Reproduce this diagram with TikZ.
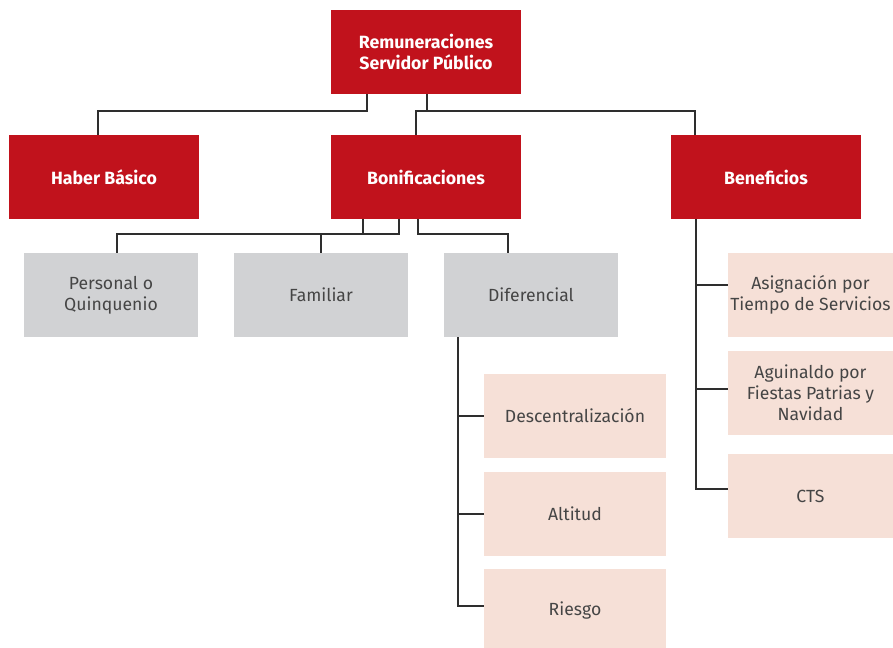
\documentclass[tikz,border=0pt]{standalone}
\usepackage{fontspec}
\setmainfont{Fira Sans}
\definecolor{rojo}{HTML}{C1121C}
\definecolor{gris}{HTML}{D1D2D4}
\definecolor{rosa}{HTML}{F6E0D7}
\definecolor{linea}{HTML}{2E2E2E}
\definecolor{texto}{HTML}{454545}
\tikzset{
  main/.style={fill=rojo,text=white,font=\bfseries\fontsize{13.3}{15.2}\selectfont,align=center,minimum width=142.5pt,minimum height=63pt,inner sep=0pt},
  sub/.style={fill=gris,text=texto,font=\fontsize{13.2}{15.8}\selectfont,align=center,minimum width=130.5pt,minimum height=63pt,inner sep=0pt},
  leaf/.style={fill=rosa,text=texto,font=\fontsize{13.2}{15.8}\selectfont,align=center,minimum height=63pt,inner sep=0pt},
  link/.style={draw=linea,line width=1.1pt}
}
\begin{document}
\begin{tikzpicture}[x=0.75pt,y=-0.75pt]
\useasboundingbox (0,0) rectangle (893,647);

\node[main] (top) at (426,52) {Remuneraciones\\Servidor Público};
\node[main] (haber) at (104,177) {Haber Básico};
\node[main] (bonif) at (426,177) {Bonificaciones};
\node[main] (benef) at (766,177) {Beneficios};

\node[sub] (personal) at (111,295) {Personal o\\Quinquenio};
\node[sub] (familiar) at (321,295) {Familiar};
\node[sub] (diferencial) at (531,295) {Diferencial};

\node[leaf,minimum width=136.5pt] (desc) at (575,416) {Descentralización};
\node[leaf,minimum width=136.5pt] (altitud) at (575,514) {Altitud};
\node[leaf,minimum width=136.5pt] (riesgo) at (575,611) {Riesgo};

\node[leaf,minimum width=123.75pt] (asig) at (810.5,295) {Asignación por\\Tiempo de Servicios};
\node[leaf,minimum width=123.75pt] (aguin) at (810.5,393) {Aguinaldo por\\Fiestas Patrias y\\Navidad};
\node[leaf,minimum width=123.75pt] (cts) at (810.5,496) {CTS};

% primer nivel
\coordinate (jl) at (367,111);
\coordinate (jr) at (427,111);
\coordinate (jb) at (695,111);
\draw[link] (top.south -| jl) -- (jl) -| ([xshift=-4.5pt]haber.north);
\draw[link] (top.south -| jr) -- (jr);
\draw[link] ([xshift=-7.5pt]bonif.north) |- (jb) -- (benef.north -| jb);

% bonificaciones
\coordinate (b1) at (363,234);
\coordinate (b2) at (399,234);
\coordinate (b3) at (418,234);
\draw[link] (bonif.south -| b1) -- (b1);
\draw[link] (bonif.south -| b2) -- (b2) -| ([xshift=4.5pt]personal.north);
\draw[link] (familiar.north) -- (familiar.north |- b2);
\draw[link] (bonif.south -| b3) -- (b3) -| ([xshift=-17.25pt]diferencial.north);

% diferencial
\coordinate (d) at (458,0);
\draw[link] (diferencial.south -| d) |- ([yshift=3.75pt]riesgo.west);
\draw[link] (desc.west -| d) -- (desc.west);
\draw[link] (altitud.west -| d) -- (altitud.west);

% beneficios
\coordinate (e) at (696,0);
\draw[link] (benef.south -| e) |- ([yshift=5.25pt]cts.west);
\draw[link] ([yshift=7.5pt]asig.west -| e) -- ([yshift=7.5pt]asig.west);
\draw[link] ([yshift=3pt]aguin.west -| e) -- ([yshift=3pt]aguin.west);
\end{tikzpicture}
\end{document}
